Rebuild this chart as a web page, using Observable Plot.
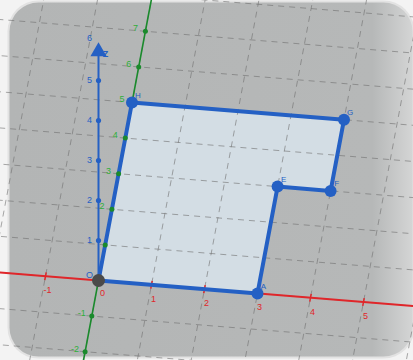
<!DOCTYPE html>
<html>
<head>
<meta charset="utf-8">
<script src="https://cdn.jsdelivr.net/npm/d3@7"></script>
<script src="https://cdn.jsdelivr.net/npm/@observablehq/plot@0.6"></script>
<style>
  html, body { margin: 0; padding: 0; background: #f3f3f3; }
  #chart { width: 413px; height: 360px; }
  text { font-family: "Liberation Sans", "DejaVu Sans", sans-serif; }
</style>
</head>
<body>
<div id="chart"></div>
<script>
// ---- data (world coordinates of the 3D scene) ----
const polyX = [0, 3, 3, 4, 4, 0];
const polyY = [0, 0, 3, 3, 5, 5];
const vertexNames = ["O", "A", "E", "F", "G", "H"];
const xTicks = [-1, 1, 2, 3, 4, 5];
const xTickLabels = ["-1", "1", "2", "3", "4", "5"];
const yTicks = [-2, -1, 1, 2, 3, 4, 5, 6, 7];
const yTickLabels = ["-2", "-1", "", "2", "3", "4", "5", "6", "7"];
const zTicks = [1, 2, 3, 4, 5, 6];
const zTickLabels = ["1", "2", "3", "4", "5", "6"];
const gridXs = [-3, -2, -1, 0, 1, 2, 3, 4, 5, 6, 7];
const gridYs = [-3, -2, -1, 0, 1, 2, 3, 4, 5, 6, 7, 8, 9];

// ---- oblique view projection (world -> screen) ----
const view = {ox: 98, oy: 280, ex: 53, ey: 4.3, fx: 6.7, fy: -35.6, gz: -40};
const P = (x, y, z = 0) => [view.ox + view.ex * x + view.fx * y, view.oy + view.ey * x + view.fy * y + view.gz * z];
const px = d => P(d.x, d.y, d.z || 0)[0];
const py = d => P(d.x, d.y, d.z || 0)[1];

const poly = polyX.map((x, i) => ({x, y: polyY[i], name: vertexNames[i]}));
const gridLines = [
  ...gridXs.map(x => ({a: {x, y: -3}, b: {x, y: 10}})),
  ...gridYs.map(y => ({a: {x: -3, y}, b: {x: 8, y}}))
];
const xt = xTicks.map((x, i) => ({x, y: 0, label: xTickLabels[i]}));
const yt = yTicks.map((y, i) => ({x: 0, y, label: yTickLabels[i]}));
const zt = zTicks.map((z, i) => ({x: 0, y: 0, z, label: zTickLabels[i]}));

const blue = "#2460c4", red = "#e0262a", green = "#1a8a2c";

const chart = Plot.plot({
  width: 413, height: 360, margin: 0,
  x: {type: "identity", axis: null},
  y: {type: "identity", axis: null},
  style: {background: "#f3f3f3", overflow: "hidden"},
  marks: [
    Plot.frame({fill: "#e2e2e2", rx: 31, insetLeft: 7, insetTop: 0, insetRight: -1, insetBottom: 2}),
    Plot.frame({fill: "url(#cardGrad)", rx: 29, insetLeft: 9, insetTop: 2, insetRight: 1, insetBottom: 4}),
    // polygon fill
    Plot.line(poly, {x: px, y: py, curve: "linear-closed", fill: "#d3dde4", stroke: "none"}),
    // plane grid
    Plot.link(gridLines, {
      x1: d => px(d.a), y1: d => py(d.a), x2: d => px(d.b), y2: d => py(d.b),
      stroke: "#6f6f6f", strokeWidth: 1, strokeDasharray: "6,5", strokeOpacity: 0.6, ariaLabel: "grid"
    }),
    // x axis (red)
    Plot.link([{a: {x: -2, y: 0}, b: {x: 7, y: 0}}], {
      x1: d => px(d.a), y1: d => py(d.a), x2: d => px(d.b), y2: d => py(d.b),
      stroke: red, strokeWidth: 2, ariaLabel: "clipme"
    }),
    Plot.link(xt, {
      x1: d => P(d.x, -0.11)[0], y1: d => P(d.x, -0.11)[1], x2: d => P(d.x, 0.11)[0], y2: d => P(d.x, 0.11)[1],
      stroke: red, strokeWidth: 1.5
    }),
    Plot.text(xt, {x: d => px(d) + 2, y: d => py(d) + 14, text: "label", fill: red, fontSize: 9}),
    // y axis (green)
    Plot.link([{a: {x: 0, y: -2.4}, b: {x: 0, y: 8.2}}], {
      x1: d => px(d.a), y1: d => py(d.a), x2: d => px(d.b), y2: d => py(d.b),
      stroke: green, strokeWidth: 1.6
    }),
    // z axis (blue)
    Plot.link([{a: {x: 0, y: 0, z: 0}, b: {x: 0, y: 0, z: 5.7}}], {
      x1: d => px(d.a), y1: d => py(d.a), x2: d => px(d.b), y2: d => py(d.b),
      stroke: blue, strokeWidth: 2
    }),
    Plot.dot([{x: 0, y: 0, z: 5.72}], {x: px, y: py, symbol: "triangle", r: 6, fill: blue, stroke: "none"}),
    Plot.dot(zt.filter(d => d.z < 6), {x: px, y: py, r: 2.6, fill: blue}),
    Plot.text(zt, {x: d => px(d) - 9, y: d => py(d) + (d.z === 6 ? -2 : 0), text: "label", fill: blue, fontSize: 9}),
    Plot.text([{x: 0, y: 0, z: 5.7, t: "Z"}], {x: d => px(d) + 7, y: d => py(d) + 2, text: "t", fill: blue, fontSize: 9, fontWeight: "bold"}),
    // polygon outline
    Plot.line(poly, {x: px, y: py, curve: "linear-closed", stroke: blue, strokeWidth: 4, strokeLinejoin: "round"}),
    // y ticks (green dots) on top
    Plot.dot(yt, {x: px, y: py, r: 2.5, fill: green}),
    Plot.text(yt, {x: d => px(d) - 10, y: d => py(d) - 3, text: "label", fill: "#2fae3a", fontSize: 9}),
    // vertices
    Plot.dot(poly.slice(1), {x: px, y: py, r: 6, fill: blue}),
    Plot.text(poly.slice(1), {x: d => px(d) + 6, y: d => py(d) - 7, text: "name", fill: blue, fontSize: 8}),
    Plot.dot(poly.slice(0, 1), {x: px, y: py, r: 6.5, fill: "#4a4a4a"}),
    Plot.text(poly.slice(0, 1), {x: d => px(d) - 9, y: d => py(d) - 5, text: "name", fill: blue, fontSize: 9}),
    Plot.text([{x: 0, y: 0, t: "0"}], {x: d => px(d) + 4, y: d => py(d) + 13, text: "t", fill: red, fontSize: 9})
  ]
});

// gradient for card + rounded clip for the plane grid
const svg = d3.select(chart);
const defs = svg.insert("defs", ":first-child");
const g = defs.append("linearGradient").attr("id", "cardGrad").attr("x1", 0).attr("x2", 1).attr("y1", 0).attr("y2", 0);
g.append("stop").attr("offset", "0").attr("stop-color", "#b3b5b5");
g.append("stop").attr("offset", "0.9").attr("stop-color", "#b6b8b8");
g.append("stop").attr("offset", "1").attr("stop-color", "#d4d5d5");
defs.append("clipPath").attr("id", "cardClip")
  .append("rect").attr("x", 9).attr("y", 2).attr("width", 403).attr("height", 354).attr("rx", 29);
svg.selectAll("g[aria-label=grid], g[aria-label=clipme]").attr("clip-path", "url(#cardClip)");

document.getElementById("chart").appendChild(chart);
</script>
</body>
</html>
